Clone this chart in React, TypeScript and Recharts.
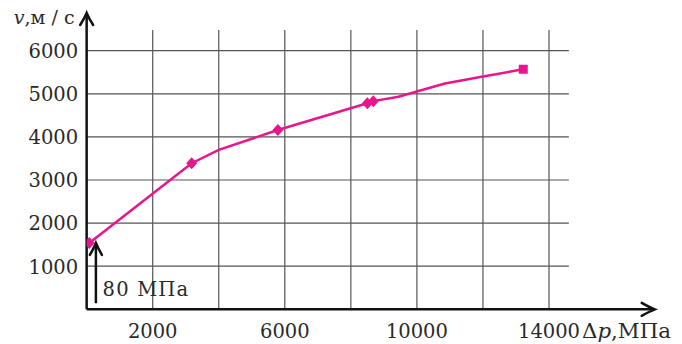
import React from 'react';
import { ComposedChart, Line, Scatter, XAxis, YAxis, ReferenceLine, ReferenceDot } from 'recharts';

// Pressure drop Δp (MPa) vs velocity v (m/s)
const P_TICKS = [2000, 6000, 10000, 14000];
const P_GRID = [2000, 4000, 6000, 8000, 10000, 12000, 14000];
const V_TICKS = [1000, 2000, 3000, 4000, 5000, 6000];

const markerP = [80, 3180, 5790, 8500, 8680, 13220];
const markerV = [1540, 3390, 4160, 4780, 4830, 5570];
const markerKind = ['diamond', 'diamond', 'diamond', 'diamond', 'diamond', 'square'];

const curveP = [80, 3180, 4000, 5790, 8500, 8680, 9440, 10850, 12000, 13220];
const curveV = [1540, 3390, 3700, 4160, 4780, 4830, 4930, 5240, 5400, 5570];

const P_MAX = 17200;
const V_MAX = 6875;
const GRID_P_END = 14600;
const GRID_V_END = 6480;
const NOTE_P = 280;
const NOTE_V_BOTTOM = 140;
const NOTE_V_TOP = 1540;
const NOTE_TEXT = '80 МПа';

const markerData = markerP.map((p, i) => ({ p, v: markerV[i], kind: markerKind[i] }));
const curveData = curveP.map((p, i) => ({ p, v: curveV[i] }));

const PINK = '#e8168c';
const FONT = "'DejaVu Serif', serif";
const TXT = { fontFamily: FONT } as React.CSSProperties;
const FS = 19.5;
const INK = '#2a2a2a';
const GRID = '#555';

const MarkerShape = (props: any) => {
  const { cx, cy, payload } = props;
  if (payload.kind === 'square') {
    return <rect x={cx - 4.5} y={cy - 4.5} width={9} height={9} fill={PINK} />;
  }
  return (
    <polygon
      points={`${cx},${cy - 6} ${cx + 5.5},${cy} ${cx},${cy + 6} ${cx - 5.5},${cy}`}
      fill={PINK}
    />
  );
};

const XTick = (props: any) => {
  const { x, y, payload } = props;
  const last = payload.value === P_TICKS[P_TICKS.length - 1];
  return (
    <g>
      <text x={x} y={y + 29} textAnchor="middle" style={TXT} fontSize={FS} fill={INK}>
        {payload.value}
      </text>
      {last && (
        <text x={x + 33} y={y + 29} style={TXT} fontSize={FS} fill={INK} textLength={89} lengthAdjust="spacingAndGlyphs">
          Δ<tspan fontStyle="italic">p</tspan>,МПа
        </text>
      )}
    </g>
  );
};

const YTick = (props: any) => {
  const { x, y, payload } = props;
  return (
    <text x={x - 8.5} y={y + 7.3} textAnchor="end" style={TXT} fontSize={FS} fill={INK}>
      {payload.value}
    </text>
  );
};

const UpArrowWithTitle = (props: any) => {
  const { cx, cy } = props;
  return (
    <g>
      <path
        d={`M ${cx - 6.5} ${cy + 12} Q ${cx - 2} ${cy + 5} ${cx} ${cy} Q ${cx + 2} ${cy + 5} ${cx + 6.5} ${cy + 12}`}
        fill="none"
        stroke="#111"
        strokeWidth={2.5}
        strokeLinecap="round"
      />
      <text x={cx - 12} y={cy + 11} textAnchor="end" style={TXT} fontSize={19} fill={INK} textLength={61} lengthAdjust="spacing">
        <tspan fontStyle="italic">v</tspan>,м / с
      </text>
    </g>
  );
};

const RightArrow = (props: any) => {
  const { cx, cy } = props;
  return (
    <path
      d={`M ${cx - 13} ${cy - 6.5} Q ${cx - 5} ${cy - 2} ${cx} ${cy} Q ${cx - 5} ${cy + 2} ${cx - 13} ${cy + 6.5}`}
      fill="none"
      stroke="#111"
      strokeWidth={2.5}
      strokeLinecap="round"
    />
  );
};

const NoteArrow = (props: any) => {
  const { cx, cy } = props;
  return (
    <g>
      <path
        d={`M ${cx - 6} ${cy + 12} Q ${cx - 2} ${cy + 5} ${cx} ${cy} Q ${cx + 2} ${cy + 5} ${cx + 6} ${cy + 12}`}
        fill="none"
        stroke="#111"
        strokeWidth={2.5}
        strokeLinecap="round"
      />
      <text x={cx + 6.7} y={cy + 53.5} style={TXT} fontSize={FS} fill={INK} textLength={85.6} lengthAdjust="spacing">
        {NOTE_TEXT}
      </text>
    </g>
  );
};

export default function App() {
  return (
    <div style={{ position: 'absolute', left: 0, top: 0, background: '#fff' }}>
      <ComposedChart
        width={682}
        height={344}
        margin={{ top: 13, right: 27.3, left: 0, bottom: 0 }}
      >
        <XAxis
          type="number"
          dataKey="p"
          domain={[0, P_MAX]}
          ticks={P_TICKS}
          allowDataOverflow
          height={34.7}
          tickSize={0}
          tickMargin={0}
          tickLine={false}
          axisLine={{ stroke: '#111', strokeWidth: 2.5 }}
          tick={<XTick />}
          interval={0}
        />
        <YAxis
          type="number"
          dataKey="v"
          domain={[0, V_MAX]}
          ticks={V_TICKS}
          allowDataOverflow
          width={86.65}
          tickSize={0}
          tickMargin={0}
          tickLine={false}
          axisLine={{ stroke: '#111', strokeWidth: 2.5 }}
          tick={<YTick />}
          interval={0}
        />
        {P_GRID.map((p) => (
          <ReferenceLine
            key={'vg' + p}
            segment={[{ x: p, y: 0 }, { x: p, y: GRID_V_END }]}
            stroke={GRID}
            strokeWidth={1.2}
            ifOverflow="visible"
          />
        ))}
        {V_TICKS.map((v) => (
          <ReferenceLine
            key={'hg' + v}
            segment={[{ x: 0, y: v }, { x: GRID_P_END, y: v }]}
            stroke={GRID}
            strokeWidth={1.2}
            ifOverflow="visible"
          />
        ))}
        <ReferenceLine
          segment={[{ x: NOTE_P, y: NOTE_V_BOTTOM }, { x: NOTE_P, y: NOTE_V_TOP }]}
          stroke="#111"
          strokeWidth={2.5}
          ifOverflow="visible"
        />
        <ReferenceDot x={NOTE_P} y={NOTE_V_TOP} r={1} ifOverflow="visible" shape={<NoteArrow />} />
        <ReferenceDot x={0} y={V_MAX} r={1} ifOverflow="visible" shape={<UpArrowWithTitle />} />
        <ReferenceDot x={P_MAX} y={0} r={1} ifOverflow="visible" shape={<RightArrow />} />
        <Line
          data={curveData}
          dataKey="v"
          type="linear"
          stroke={PINK}
          strokeWidth={2.5}
          dot={false}
          isAnimationActive={false}
        />
        <Scatter data={markerData} dataKey="v" shape={<MarkerShape />} isAnimationActive={false} />
      </ComposedChart>
    </div>
  );
}
